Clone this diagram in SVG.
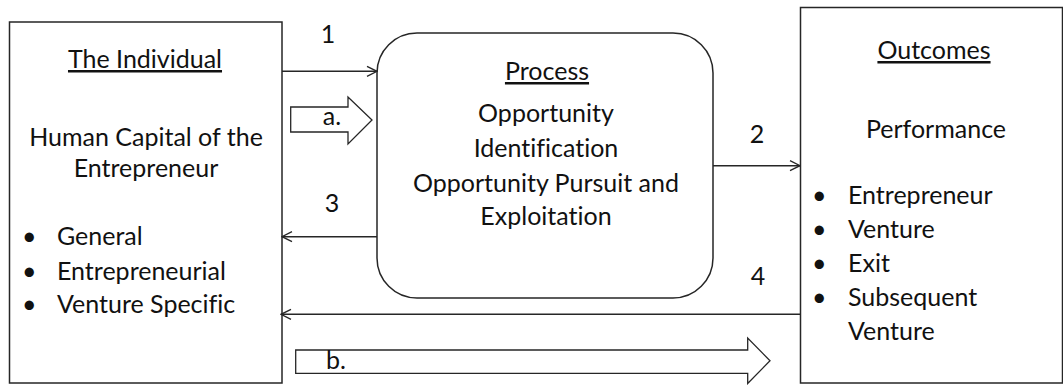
<svg xmlns="http://www.w3.org/2000/svg" width="1063" height="385" viewBox="0 0 1063 385">
<defs>
<style>
.box{fill:#fff;stroke:#262626;stroke-width:1.5}
.ln{fill:none;stroke:#262626;stroke-width:1.4}
.blk{fill:#fff;stroke:#262626;stroke-width:1.3}
text{font-family:Lato,"Liberation Sans",sans-serif;font-size:25px;fill:#111;font-variant-ligatures:none}
.c{text-anchor:middle}
.u{text-decoration:underline}
</style>
<marker id="ah" viewBox="0 0 12 12" refX="11" refY="6" markerWidth="12" markerHeight="12" markerUnits="userSpaceOnUse" orient="auto">
<path d="M1,1 L11,6 L1,11" fill="none" stroke="#262626" stroke-width="1.3"/>
</marker>
</defs>
<rect width="1063" height="385" fill="#fff"/>
<g id="individual">
<rect class="box" x="9.5" y="22" width="272.5" height="361"/>
<text class="c u" x="145" y="68">The Individual </text>
<text class="c" x="146" y="146">Human Capital of the</text>
<text class="c" x="146" y="177">Entrepreneur</text>
<text x="22" y="245">•</text><text x="57" y="245">General</text>
<text x="22" y="280">•</text><text x="57" y="280">Entrepreneurial</text>
<text x="22" y="313">•</text><text x="57" y="313">Venture Specific</text>
</g>
<g id="process">
<rect class="box" x="377" y="33" width="336" height="265" rx="40" ry="40"/>
<text class="c u" x="547" y="80">Process </text>
<text class="c" x="546" y="122">Opportunity</text>
<text class="c" x="546" y="157">Identification</text>
<text class="c" x="546" y="192">Opportunity Pursuit and</text>
<text class="c" x="546" y="225">Exploitation</text>
</g>
<g id="outcomes">
<rect class="box" x="800.5" y="7.5" width="262" height="375.5"/>
<text class="c u" x="934" y="59">Outcomes </text>
<text class="c" x="936" y="138">Performance</text>
<text x="812" y="204">•</text><text x="848" y="204">Entrepreneur</text>
<text x="812" y="238">•</text><text x="848" y="238">Venture</text>
<text x="812" y="272">•</text><text x="848" y="272">Exit</text>
<text x="812" y="306">•</text><text x="848" y="306">Subsequent</text>
<text x="848" y="340">Venture</text>
</g>
<g id="connectors">
<line class="ln" x1="282" y1="71.3" x2="377" y2="71.3" marker-end="url(#ah)"/>
<line class="ln" x1="713" y1="165.7" x2="800" y2="165.7" marker-end="url(#ah)"/>
<line class="ln" x1="377" y1="236.7" x2="282" y2="236.7" marker-end="url(#ah)"/>
<line class="ln" x1="800" y1="314.3" x2="281" y2="314.3" marker-end="url(#ah)"/>
<polygon class="blk" points="290.7,107 348,107 348,97 372,120 348,144 348,132 290.7,132"/>
<polygon class="blk" points="295.7,350 747.7,350 747.7,338 770,360.7 747.7,383.5 747.7,373.3 295.7,373.3"/>
<text x="328" y="43" class="c">1</text>
<text x="757" y="143" class="c">2</text>
<text x="332" y="212" class="c">3</text>
<text x="758" y="285" class="c">4</text>
<text x="332" y="125" class="c">a.</text>
<text x="336" y="369" class="c">b.</text>
</g>
</svg>
